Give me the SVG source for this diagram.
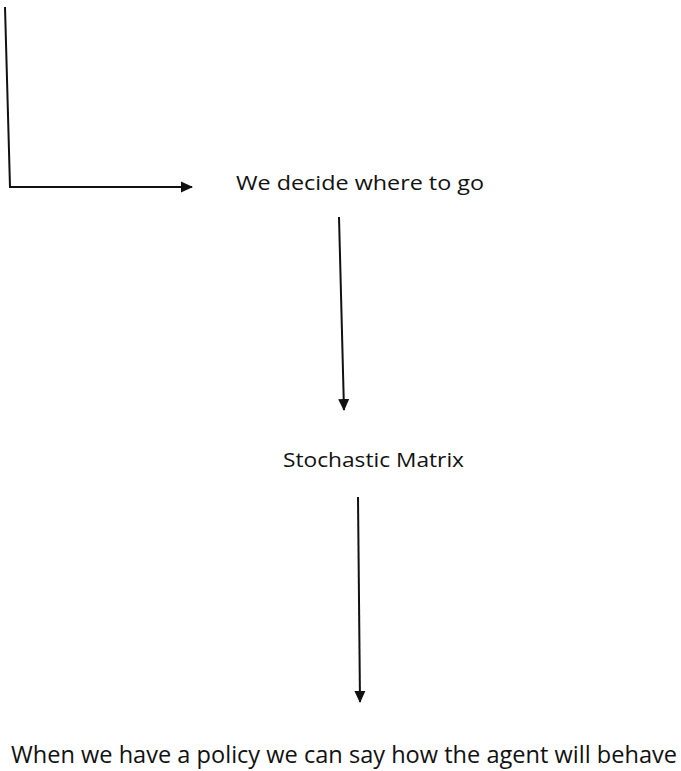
<svg xmlns="http://www.w3.org/2000/svg" width="681" height="771" viewBox="0 0 681 771">
<style>
.t{font-family:"Open Sans","Noto Sans","Liberation Sans",sans-serif;font-size:20px;fill:#111}
.b{font-size:23px}
.c{fill:none;stroke:#111;stroke-width:2}
</style>
<defs>
<marker id="ah" markerWidth="12" markerHeight="12" refX="11" refY="6" orient="auto" markerUnits="userSpaceOnUse">
<path d="M0,0.5 L12,6 L0,11.5 Z" fill="#111"/>
</marker>
</defs>
<rect width="681" height="771" fill="#fff"/>
<g id="connectors">
<polyline class="c" points="5,7 10,187 192,187" marker-end="url(#ah)"/>
<line class="c" x1="339" y1="217" x2="344" y2="410" marker-end="url(#ah)"/>
<line class="c" x1="358" y1="497" x2="360" y2="702" marker-end="url(#ah)"/>
</g>
<g id="node-decide">
<text class="t" x="236" y="190" textLength="248" lengthAdjust="spacingAndGlyphs">We decide where to go</text>
</g>
<g id="node-matrix">
<text class="t" x="283" y="467" textLength="181" lengthAdjust="spacingAndGlyphs">Stochastic Matrix</text>
</g>
<g id="node-policy">
<text class="t b" x="11" y="763" textLength="666" lengthAdjust="spacingAndGlyphs">When we have a policy we can say how the agent will behave</text>
</g>
</svg>
